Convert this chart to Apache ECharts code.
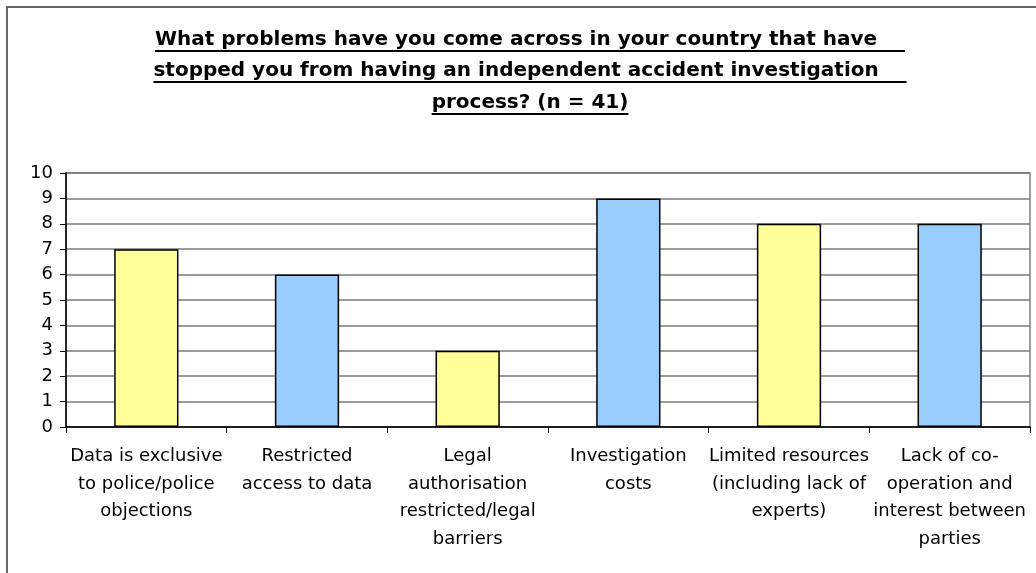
<!DOCTYPE html>
<html><head><meta charset="utf-8">
<script src="https://cdn.jsdelivr.net/npm/echarts@6/dist/echarts.min.js"></script>
<style>html,body{margin:0;padding:0;background:#fff}#c{width:1036px;height:573px}</style>
</head><body><div id="c"></div>
<script>
// ---- data ----
const titleLines = [
  'What problems have you come across in your country that have    ',
  'stopped you from having an independent accident investigation    ',
  'process? (n = 41)'
];
const categories = [
  'Data is exclusive\nto police/police\nobjections',
  'Restricted\naccess to data',
  'Legal\nauthorisation\nrestricted/legal\nbarriers',
  'Investigation\ncosts',
  'Limited resources\n(including lack of\nexperts)',
  'Lack of co-\noperation and\ninterest between\nparties'
];
const values = [7, 6, 3, 9, 8, 8];
const yMin = 0, yMax = 10, yStep = 1;

// ---- style ----
const FONT = 'DejaVu Sans';
const palette = ['#FFFF99', '#99CCFF'];
const titleFontSize = 20, titleLineH = 31.5, titleTop = 23.6, titleCenterX = 530;

const chart = echarts.init(document.getElementById('c'), null, {renderer: 'canvas'});

// measure title lines for underline decoration
const ctx = document.createElement('canvas').getContext('2d');
ctx.font = 'bold ' + titleFontSize + 'px "' + FONT + '"';
const underlines = titleLines.map((t, i) => {
  const w = ctx.measureText(t).width;
  const y = Math.round(titleTop + titleLineH / 2 + titleLineH * i + 11.6);
  return {
    type: 'line',
    shape: {x1: titleCenterX - w / 2, y1: y, x2: titleCenterX + w / 2, y2: y},
    style: {stroke: '#000', lineWidth: 2},
    silent: true
  };
});

chart.setOption({
  backgroundColor: '#fff',
  animation: false,
  title: {
    text: titleLines.join('\n'),
    left: titleCenterX,
    top: titleTop,
    textAlign: 'center',
    padding: 0,
    textStyle: {
      fontFamily: FONT, fontWeight: 'bold', fontSize: titleFontSize,
      lineHeight: titleLineH, color: '#000'
    }
  },
  graphic: [
    {
      type: 'rect', silent: true,
      shape: {x: 7, y: 7, width: 1060, height: 600},
      style: {fill: 'none', stroke: '#333', lineWidth: 1.5}
    },
    ...underlines
  ],
  grid: {
    left: 66, right: 6, top: 173, bottom: 146,
    show: true, borderColor: '#808080', borderWidth: 1.5, backgroundColor: '#fff'
  },
  xAxis: {
    type: 'category',
    data: categories,
    axisLine: {show: true, lineStyle: {color: '#000', width: 1.5}},
    axisTick: {show: true, length: 6, lineStyle: {color: '#000'}},
    axisLabel: {
      interval: 0, margin: 16, color: '#000',
      fontFamily: FONT, fontSize: 18, lineHeight: 27.5
    },
    splitLine: {show: false}
  },
  yAxis: {
    type: 'value',
    min: yMin, max: yMax, interval: yStep,
    axisLine: {show: true, lineStyle: {color: '#000', width: 1.5}},
    axisTick: {show: true, length: 6, lineStyle: {color: '#000'}},
    axisLabel: {margin: 13, color: '#000', fontFamily: FONT, fontSize: 18},
    splitLine: {show: true, lineStyle: {color: '#7a7a7a', width: 1.5}}
  },
  series: [{
    type: 'bar',
    data: values.map((v, i) => ({value: v, itemStyle: {color: palette[i % 2]}})),
    barCategoryGap: '60%',
    itemStyle: {borderColor: '#000', borderWidth: 1.5},
    label: {show: false}
  }]
});
</script>
</body></html>
